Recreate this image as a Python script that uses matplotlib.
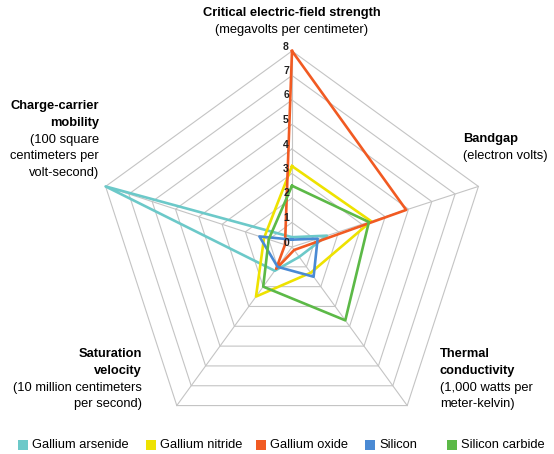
import numpy as np
import matplotlib
matplotlib.use('Agg')
import matplotlib.pyplot as plt
from matplotlib.patches import Rectangle

plt.rcParams['font.family'] = ['Liberation Sans', 'DejaVu Sans']

# data : values read on the 5 axes (top, then clockwise)
axes_names = ['Critical electric-field strength', 'Bandgap', 'Thermal conductivity',
              'Saturation velocity', 'Charge-carrier mobility']
gallium_arsenide = [0.4, 1.5, 0.5, 1.2, 8.0]
gallium_nitride = [3.3, 3.4, 1.3, 2.5, 1.2]
gallium_oxide = [8.0, 4.9, 0.15, 1.1, 0.3]
silicon = [0.3, 1.1, 1.5, 1.0, 1.4]
silicon_carbide = [2.5, 3.3, 3.7, 2.0, 1.0]
series_names = ['Gallium arsenide', 'Gallium nitride', 'Gallium oxide', 'Silicon', 'Silicon carbide']
levels = list(range(0, 9))

colors = ['#6cc9c9', '#eee200', '#f15a22', '#4a8ad4', '#5cb947']

# figure in pixels
W, H = 554, 454
cx, cy = 292, 247      # centre of the web (px from top-left)
sc = 24.5              # px per unit

fig = plt.figure(figsize=(W/100, H/100), dpi=100)
ax = fig.add_axes([0, 0, 1, 1])
ax.set_xlim(-cx/sc, (W-cx)/sc)
ax.set_ylim(-(H-cy)/sc, cy/sc)
ax.axis('off')

def px(x, y):
    return x/W, 1 - y/H

ang = np.deg2rad([90, 18, -54, -126, 162])
angc = np.append(ang, ang[0])

# grid pentagons + spokes
vmax = levels[-1]
for lev in levels[1:]:
    ax.plot(lev*np.cos(angc), lev*np.sin(angc), color='#c4c4c4', lw=0.8, zorder=1)
for a in ang:
    ax.plot([0, vmax*np.cos(a)], [0, vmax*np.sin(a)], color='#c4c4c4', lw=0.8, zorder=1)

# series
all_series = [gallium_arsenide, gallium_nitride, gallium_oxide, silicon, silicon_carbide]
for k, vals in enumerate(all_series):
    v = np.append(vals, vals[0])
    ax.plot(v*np.cos(angc), v*np.sin(angc), color=colors[k], lw=1.9, zorder=3+k)

# scale labels
for lev in levels:
    ax.text(-6/sc, lev + 4.5/sc, str(lev), ha='center', va='center',
            fontsize=7.5, fontweight='bold', color='#222222', zorder=10)

fs = 9.3
lh = 16.8
# top
fig.text(*px(292, 13), 'Critical electric-field strength', ha='center', va='center',
         fontsize=fs, fontweight='bold')
fig.text(*px(292, 13+lh), '(megavolts per centimeter)', ha='center', va='center', fontsize=fs)
# right
fig.text(*px(463, 139), 'Bandgap', ha='left', va='center', fontsize=fs, fontweight='bold')
fig.text(*px(463, 139+lh), '(electron volts)', ha='left', va='center', fontsize=fs)
# left
mob = [('Charge-carrier', 'bold'), ('mobility', 'bold'), ('(100 square', 'normal'),
       ('centimeters per', 'normal'), ('volt-second)', 'normal')]
for i, (t, w) in enumerate(mob):
    fig.text(*px(99, 106 + i*lh), t, ha='right', va='center', fontsize=fs, fontweight=w)
sat = [('Saturation', 'bold'), ('velocity', 'bold'), ('(10 million centimeters', 'normal'),
       ('per second)', 'normal')]
for i, (t, w) in enumerate(sat):
    fig.text(*px(142, 354 + i*lh), t, ha='right', va='center', fontsize=fs, fontweight=w)
th = [('Thermal', 'bold'), ('conductivity', 'bold'), ('(1,000 watts per', 'normal'),
      ('meter-kelvin)', 'normal')]
for i, (t, w) in enumerate(th):
    fig.text(*px(440, 354 + i*lh), t, ha='left', va='center', fontsize=fs, fontweight=w)

# legend, drawn by hand
leg_x = [18, 146, 256, 365, 447]
for k, name in enumerate(series_names):
    x0, y0 = px(leg_x[k], 450)
    fig.patches.append(Rectangle((x0, y0), 10/W, 10/H, transform=fig.transFigure,
                                 facecolor=colors[k], edgecolor='none'))
    fig.text(*px(leg_x[k] + 14, 445), name, ha='left', va='center', fontsize=fs)

fig.savefig('out.png', dpi=100)
